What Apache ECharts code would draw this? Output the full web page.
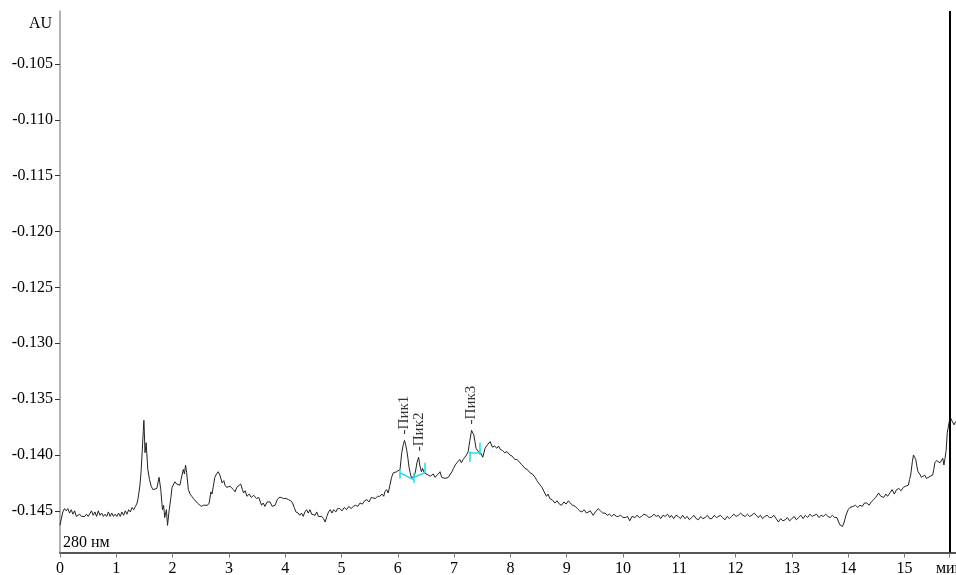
<!DOCTYPE html>
<html>
<head>
<meta charset="utf-8">
<script src="https://cdn.jsdelivr.net/npm/echarts@6/dist/echarts.min.js"></script>
<style>
html,body{margin:0;padding:0;background:#fff;}
#chart{width:956px;height:575px;}
</style>
</head>
<body>
<div id="chart"></div>
<script>
// Y axis tick values (AU) and X axis tick values (min)
const yTickValues = [-0.145, -0.140, -0.135, -0.130, -0.125, -0.120, -0.115, -0.110, -0.105];
const xTickValues = [0, 1, 2, 3, 4, 5, 6, 7, 8, 9, 10, 11, 12, 13, 14, 15, 15.8];
const xTickLabels = ['0','1','2','3','4','5','6','7','8','9','10','11','12','13','14','15','мин'];
const yAxisName = 'AU';
const detectorLabel = '280 нм';
const runEndTime = 15.8;

// Chromatogram signal: [time, min ; absorbance, AU]
const signal = [
[0.00,-0.1463],[0.02,-0.1458],[0.05,-0.1451],[0.08,-0.1448],[0.11,-0.1450],[0.14,-0.1448],[0.17,-0.1452],[0.20,-0.1449],
[0.23,-0.1453],[0.26,-0.1450],[0.29,-0.1455],[0.32,-0.1456],[0.35,-0.1453],[0.38,-0.1455],[0.41,-0.1454],[0.44,-0.1455],
[0.47,-0.1453],[0.50,-0.1455],[0.53,-0.1454],[0.56,-0.1450],[0.59,-0.1454],[0.62,-0.1451],[0.65,-0.1455],[0.68,-0.1450],
[0.71,-0.1454],[0.74,-0.1452],[0.77,-0.1455],[0.80,-0.1453],[0.83,-0.1455],[0.86,-0.1451],[0.89,-0.1455],[0.92,-0.1452],
[0.95,-0.1455],[0.98,-0.1453],[1.01,-0.1455],[1.04,-0.1452],[1.07,-0.1455],[1.10,-0.1451],[1.13,-0.1454],[1.16,-0.1450],
[1.19,-0.1453],[1.22,-0.1449],[1.25,-0.1451],[1.28,-0.1447],[1.31,-0.1449],[1.34,-0.1446],[1.37,-0.1443],[1.39,-0.1438],
[1.42,-0.1427],[1.44,-0.1415],[1.46,-0.1397],[1.48,-0.1378],[1.49,-0.1369],[1.50,-0.1382],[1.51,-0.1398],[1.53,-0.1389],
[1.56,-0.1413],[1.59,-0.1422],[1.62,-0.1428],[1.65,-0.1431],[1.68,-0.1432],[1.72,-0.1430],[1.76,-0.1420],[1.79,-0.1431],
[1.82,-0.1449],[1.84,-0.1445],[1.86,-0.1456],[1.89,-0.1449],[1.91,-0.1463],[1.94,-0.1449],[1.97,-0.1438],[1.99,-0.1429],
[2.04,-0.1424],[2.07,-0.1426],[2.10,-0.1425],[2.13,-0.1427],[2.15,-0.1422],[2.19,-0.1413],[2.21,-0.1417],[2.23,-0.1409],
[2.25,-0.1416],[2.28,-0.1431],[2.31,-0.1435],[2.34,-0.1437],[2.37,-0.1439],[2.40,-0.1440],[2.44,-0.1443],[2.47,-0.1444],
[2.51,-0.1446],[2.55,-0.1445],[2.58,-0.1446],[2.62,-0.1445],[2.65,-0.1443],[2.68,-0.1433],[2.70,-0.1435],[2.72,-0.1429],
[2.75,-0.1420],[2.78,-0.1417],[2.81,-0.1415],[2.84,-0.1418],[2.88,-0.1425],[2.91,-0.1423],[2.93,-0.1427],[2.96,-0.1429],
[2.99,-0.1430],[3.02,-0.1428],[3.05,-0.1427],[3.08,-0.1431],[3.11,-0.1433],[3.14,-0.1429],[3.17,-0.1430],[3.21,-0.1426],
[3.24,-0.1431],[3.26,-0.1434],[3.29,-0.1432],[3.32,-0.1437],[3.36,-0.1435],[3.40,-0.1438],[3.44,-0.1436],[3.49,-0.1439],
[3.53,-0.1438],[3.58,-0.1445],[3.61,-0.1443],[3.64,-0.1446],[3.68,-0.1442],[3.73,-0.1442],[3.77,-0.1446],[3.82,-0.1445],
[3.86,-0.1440],[3.89,-0.1438],[3.93,-0.1438],[3.97,-0.1439],[4.02,-0.1439],[4.06,-0.1440],[4.10,-0.1441],[4.13,-0.1443],
[4.16,-0.1447],[4.19,-0.1451],[4.23,-0.1452],[4.26,-0.1454],[4.29,-0.1452],[4.32,-0.1455],[4.35,-0.1451],[4.38,-0.1449],
[4.41,-0.1452],[4.44,-0.1449],[4.47,-0.1453],[4.50,-0.1452],[4.53,-0.1454],[4.56,-0.1451],[4.59,-0.1455],[4.62,-0.1454],
[4.65,-0.1455],[4.68,-0.1457],[4.71,-0.1460],[4.74,-0.1455],[4.77,-0.1451],[4.80,-0.1449],[4.83,-0.1452],[4.86,-0.1449],
[4.90,-0.1451],[4.93,-0.1448],[4.97,-0.1448],[5.01,-0.1450],[5.05,-0.1447],[5.09,-0.1449],[5.13,-0.1446],[5.17,-0.1448],
[5.21,-0.1446],[5.25,-0.1445],[5.29,-0.1446],[5.33,-0.1443],[5.37,-0.1444],[5.41,-0.1441],[5.45,-0.1440],[5.49,-0.1442],
[5.53,-0.1438],[5.56,-0.1438],[5.60,-0.1439],[5.64,-0.1437],[5.68,-0.1437],[5.72,-0.1435],[5.75,-0.1437],[5.77,-0.1433],
[5.80,-0.1431],[5.83,-0.1434],[5.86,-0.1427],[5.89,-0.1420],[5.92,-0.1416],[5.95,-0.1417],[5.98,-0.1415],[6.01,-0.1414],
[6.04,-0.1413],[6.07,-0.1398],[6.10,-0.1390],[6.12,-0.1387],[6.14,-0.1391],[6.16,-0.1396],[6.18,-0.1403],[6.20,-0.1411],
[6.22,-0.1416],[6.24,-0.1420],[6.26,-0.1421],[6.28,-0.1420],[6.31,-0.1416],[6.34,-0.1407],[6.37,-0.1402],[6.39,-0.1409],
[6.42,-0.1415],[6.44,-0.1412],[6.47,-0.1416],[6.50,-0.1417],[6.54,-0.1418],[6.58,-0.1419],[6.63,-0.1417],[6.66,-0.1420],
[6.69,-0.1420],[6.72,-0.1417],[6.75,-0.1415],[6.78,-0.1420],[6.81,-0.1420],[6.84,-0.1421],[6.87,-0.1422],[6.90,-0.1420],
[6.93,-0.1420],[6.96,-0.1415],[6.99,-0.1412],[7.02,-0.1409],[7.05,-0.1407],[7.08,-0.1406],[7.10,-0.1404],[7.13,-0.1407],
[7.16,-0.1404],[7.19,-0.1402],[7.22,-0.1400],[7.25,-0.1397],[7.28,-0.1387],[7.31,-0.1378],[7.33,-0.1379],[7.35,-0.1382],
[7.37,-0.1388],[7.39,-0.1394],[7.43,-0.1397],[7.47,-0.1398],[7.51,-0.1402],[7.55,-0.1394],[7.59,-0.1391],[7.64,-0.1388],
[7.68,-0.1393],[7.72,-0.1392],[7.76,-0.1394],[7.79,-0.1392],[7.82,-0.1395],[7.86,-0.1396],[7.90,-0.1398],[7.94,-0.1397],
[7.99,-0.1400],[8.03,-0.1401],[8.08,-0.1404],[8.12,-0.1404],[8.17,-0.1407],[8.21,-0.1409],[8.26,-0.1412],[8.30,-0.1413],
[8.35,-0.1416],[8.39,-0.1417],[8.44,-0.1420],[8.47,-0.1423],[8.50,-0.1425],[8.53,-0.1427],[8.56,-0.1429],[8.60,-0.1433],
[8.64,-0.1437],[8.67,-0.1435],[8.70,-0.1439],[8.74,-0.1440],[8.79,-0.1443],[8.83,-0.1441],[8.87,-0.1444],[8.91,-0.1445],
[8.95,-0.1442],[8.99,-0.1444],[9.03,-0.1441],[9.06,-0.1442],[9.10,-0.1445],[9.15,-0.1446],[9.19,-0.1448],[9.23,-0.1450],
[9.27,-0.1451],[9.31,-0.1449],[9.35,-0.1452],[9.38,-0.1452],[9.42,-0.1450],[9.47,-0.1454],[9.51,-0.1451],[9.56,-0.1448],
[9.60,-0.1450],[9.64,-0.1452],[9.68,-0.1452],[9.72,-0.1454],[9.76,-0.1453],[9.80,-0.1455],[9.84,-0.1453],[9.88,-0.1455],
[9.92,-0.1455],[9.96,-0.1454],[10.00,-0.1456],[10.04,-0.1456],[10.08,-0.1455],[10.12,-0.1459],[10.16,-0.1455],[10.21,-0.1456],
[10.25,-0.1454],[10.29,-0.1456],[10.33,-0.1455],[10.37,-0.1453],[10.42,-0.1454],[10.46,-0.1456],[10.51,-0.1455],[10.55,-0.1453],
[10.59,-0.1455],[10.63,-0.1454],[10.67,-0.1457],[10.71,-0.1454],[10.75,-0.1455],[10.79,-0.1453],[10.83,-0.1456],[10.86,-0.1454],
[10.90,-0.1457],[10.94,-0.1454],[10.98,-0.1455],[11.02,-0.1457],[11.06,-0.1454],[11.10,-0.1457],[11.14,-0.1455],[11.18,-0.1458],
[11.22,-0.1456],[11.26,-0.1454],[11.30,-0.1457],[11.34,-0.1458],[11.38,-0.1455],[11.42,-0.1457],[11.46,-0.1456],[11.50,-0.1454],
[11.54,-0.1457],[11.58,-0.1457],[11.62,-0.1454],[11.66,-0.1456],[11.69,-0.1455],[11.73,-0.1454],[11.77,-0.1456],[11.81,-0.1458],
[11.85,-0.1455],[11.89,-0.1457],[11.93,-0.1455],[11.97,-0.1453],[12.01,-0.1455],[12.05,-0.1454],[12.09,-0.1452],[12.13,-0.1454],
[12.17,-0.1455],[12.21,-0.1453],[12.25,-0.1455],[12.29,-0.1454],[12.33,-0.1452],[12.37,-0.1454],[12.40,-0.1456],[12.44,-0.1454],
[12.48,-0.1457],[12.52,-0.1455],[12.56,-0.1454],[12.60,-0.1456],[12.64,-0.1456],[12.68,-0.1454],[12.72,-0.1457],[12.76,-0.1460],
[12.80,-0.1457],[12.84,-0.1459],[12.88,-0.1458],[12.92,-0.1456],[12.96,-0.1459],[13.00,-0.1457],[13.04,-0.1455],[13.08,-0.1458],
[13.12,-0.1456],[13.16,-0.1454],[13.20,-0.1457],[13.24,-0.1454],[13.28,-0.1456],[13.32,-0.1453],[13.36,-0.1455],[13.40,-0.1454],
[13.44,-0.1453],[13.48,-0.1456],[13.52,-0.1454],[13.56,-0.1455],[13.60,-0.1453],[13.64,-0.1455],[13.68,-0.1456],[13.72,-0.1454],
[13.76,-0.1456],[13.80,-0.1456],[13.83,-0.1460],[13.86,-0.1463],[13.90,-0.1464],[13.93,-0.1460],[13.96,-0.1454],[14.00,-0.1449],
[14.03,-0.1447],[14.06,-0.1448],[14.09,-0.1446],[14.13,-0.1445],[14.17,-0.1447],[14.21,-0.1445],[14.25,-0.1446],[14.29,-0.1443],
[14.33,-0.1443],[14.37,-0.1445],[14.41,-0.1442],[14.45,-0.1440],[14.49,-0.1438],[14.54,-0.1434],[14.58,-0.1437],[14.63,-0.1438],
[14.67,-0.1435],[14.70,-0.1437],[14.74,-0.1434],[14.78,-0.1431],[14.82,-0.1435],[14.86,-0.1431],[14.90,-0.1430],[14.94,-0.1432],
[14.98,-0.1429],[15.02,-0.1428],[15.05,-0.1429],[15.07,-0.1427],[15.09,-0.1422],[15.11,-0.1418],[15.14,-0.1406],[15.16,-0.1400],
[15.18,-0.1402],[15.20,-0.1404],[15.22,-0.1410],[15.24,-0.1415],[15.27,-0.1417],[15.30,-0.1420],[15.33,-0.1420],[15.36,-0.1418],
[15.39,-0.1421],[15.42,-0.1421],[15.46,-0.1419],[15.50,-0.1418],[15.52,-0.1413],[15.54,-0.1407],[15.57,-0.1405],[15.60,-0.1404],
[15.63,-0.1407],[15.66,-0.1406],[15.68,-0.1403],[15.70,-0.1409],[15.72,-0.1403],[15.74,-0.1396],[15.76,-0.1380],[15.78,-0.1379],
[15.80,-0.1369],[15.82,-0.1367],[15.85,-0.1370],[15.88,-0.1373],[15.91,-0.1370]
];

// Peak annotations
const peakNames = ['Пик1', 'Пик2', 'Пик3'];
const peakTimes = [6.12, 6.37, 7.31];
const peakApex = [-0.1387, -0.1402, -0.1378];

// Integration baselines (cyan): segments [[t1, v1], [t2, v2]]
const baselineSegments = [
  [[6.04, -0.1413], [6.04, -0.1421]],
  [[6.04, -0.1416], [6.28, -0.1422]],
  [[6.28, -0.1416], [6.28, -0.1425]],
  [[6.28, -0.1420], [6.48, -0.1416]],
  [[6.48, -0.1407], [6.48, -0.1416]],
  [[7.27, -0.1398], [7.46, -0.1398]],
  [[7.27, -0.1397], [7.27, -0.1406]],
  [[7.46, -0.1389], [7.46, -0.1400]]
];

const FONT = 'Liberation Serif';
const chart = echarts.init(document.getElementById('chart'), null, {renderer: 'canvas'});

const peakData = peakNames.map((n, i) => ({name: n, value: [peakTimes[i], peakApex[i]]}));

chart.setOption({
  animation: false,
  backgroundColor: '#ffffff',
  grid: {left: 60, right: 0, top: 11, bottom: 22.5, containLabel: false, outerBoundsMode: 'none'},
  xAxis: {
    type: 'value',
    min: 0,
    max: 15.915,
    splitLine: {show: false},
    axisLine: {show: true, lineStyle: {color: '#555', width: 2}},
    axisTick: {show: true, length: 5, lineStyle: {color: '#777', width: 1}, customValues: xTickValues},
    axisLabel: {
      show: true, margin: 8, color: '#000', fontFamily: FONT, fontSize: 16,
      customValues: xTickValues,
      formatter: function (v) {
        const idx = xTickValues.findIndex(t => Math.abs(t - v) < 1e-6);
        return idx >= 0 ? xTickLabels[idx] : '';
      }
    }
  },
  yAxis: {
    type: 'value',
    min: -0.14873,
    max: -0.10026,
    splitLine: {show: false},
    axisLine: {show: true, lineStyle: {color: '#999', width: 1.5}},
    axisTick: {show: true, length: 5, lineStyle: {color: '#333', width: 1}, customValues: yTickValues},
    axisLabel: {
      show: true, margin: 7, color: '#000', fontFamily: FONT, fontSize: 16,
      customValues: yTickValues,
      formatter: function (v) { return v.toFixed(3); }
    }
  },
  graphic: [
    {type: 'text', left: 29, top: 16, style: {text: yAxisName, fill: '#000', fontFamily: FONT, fontSize: 16}},
    {type: 'text', left: 63, top: 535, style: {text: detectorLabel, fill: '#000', fontFamily: FONT, fontSize: 16}}
  ],
  series: [
    {
      type: 'line',
      name: 'signal',
      data: signal,
      showSymbol: false,
      symbol: 'none',
      lineStyle: {color: '#222', width: 1},
      silent: true,
      markLine: {
        silent: true,
        symbol: ['none', 'none'],
        label: {show: false},
        lineStyle: {color: '#000', width: 2, type: 'solid'},
        data: [{xAxis: runEndTime}]
      }
    },
    {
      type: 'line',
      name: 'baseline',
      data: [],
      silent: true,
      markLine: {
        silent: true,
        symbol: ['none', 'none'],
        label: {show: false},
        lineStyle: {color: '#1adbe8', width: 1.5, type: 'solid'},
        data: baselineSegments.map(s => [{coord: s[0]}, {coord: s[1]}])
      }
    },
    {
      type: 'scatter',
      name: 'peaks',
      data: peakData,
      symbolSize: 0,
      silent: true,
      label: {
        show: true,
        position: 'top',
        distance: 6,
        rotate: 90,
        align: 'left',
        verticalAlign: 'middle',
        color: '#000',
        fontFamily: FONT,
        fontSize: 15,
        formatter: function (p) { return '-' + p.name; }
      }
    }
  ]
});
</script>
</body>
</html>
